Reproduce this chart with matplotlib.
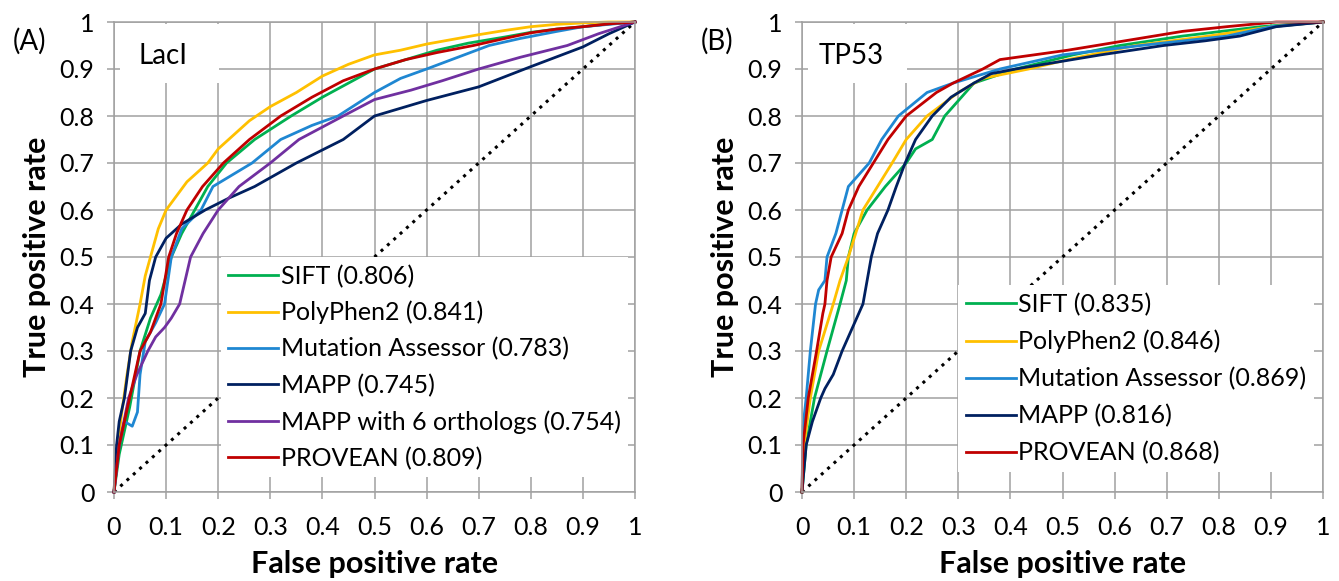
'''
    ROC curves of variant effect predictors on LacI and TP53
'''

import matplotlib
matplotlib.use('Agg')
import matplotlib.pyplot as plt
from matplotlib.patches import Rectangle

plt.rcParams['font.family'] = ['Lato', 'DejaVu Sans']

## ROC points, (fpr, tpr)
LACI_SIFT = [(0, 0), (0.01, 0.08), (0.03, 0.18), (0.05, 0.30), (0.07, 0.37), (0.09, 0.42),
             (0.11, 0.50), (0.13, 0.55), (0.155, 0.60), (0.18, 0.65), (0.216, 0.70), (0.27, 0.75),
             (0.34, 0.80), (0.40, 0.84), (0.45, 0.87), (0.50, 0.90), (0.56, 0.92), (0.62, 0.94),
             (0.68, 0.955), (0.75, 0.968), (0.80, 0.978), (0.85, 0.985), (0.90, 0.99), (0.95, 0.996), (1, 1)]
LACI_POLYPHEN = [(0, 0), (0.005, 0.08), (0.015, 0.17), (0.025, 0.25), (0.035, 0.32), (0.05, 0.40),
                 (0.06, 0.46), (0.07, 0.50), (0.085, 0.56), (0.10, 0.60), (0.12, 0.63), (0.14, 0.66),
                 (0.16, 0.68), (0.18, 0.70), (0.20, 0.73), (0.23, 0.76), (0.26, 0.79), (0.30, 0.82),
                 (0.35, 0.85), (0.40, 0.885), (0.45, 0.91), (0.50, 0.93), (0.55, 0.94), (0.60, 0.953),
                 (0.65, 0.963), (0.70, 0.973), (0.75, 0.982), (0.80, 0.99), (0.85, 0.995), (0.90, 0.998),
                 (0.95, 1.0), (1, 1)]
LACI_MA = [(0, 0), (0.01, 0.10), (0.02, 0.15), (0.035, 0.14), (0.045, 0.17), (0.05, 0.25), (0.06, 0.32),
           (0.08, 0.36), (0.097, 0.40), (0.11, 0.50), (0.13, 0.56), (0.167, 0.60), (0.19, 0.65),
           (0.265, 0.70), (0.32, 0.75), (0.38, 0.78), (0.43, 0.80), (0.50, 0.85), (0.55, 0.88),
           (0.60, 0.90), (0.66, 0.925), (0.72, 0.95), (0.78, 0.965), (0.85, 0.98), (0.90, 0.99),
           (0.95, 0.995), (1, 1)]
LACI_MAPP = [(0, 0), (0.005, 0.10), (0.01, 0.15), (0.02, 0.20), (0.032, 0.30), (0.045, 0.35),
             (0.06, 0.38), (0.068, 0.45), (0.08, 0.50), (0.10, 0.54), (0.13, 0.57), (0.175, 0.60),
             (0.22, 0.625), (0.27, 0.65), (0.35, 0.70), (0.44, 0.75), (0.50, 0.80), (0.60, 0.833),
             (0.70, 0.862), (0.80, 0.905), (0.90, 0.947), (0.95, 0.975), (1, 1)]
LACI_MAPP6 = [(0, 0), (0.01, 0.10), (0.028, 0.20), (0.044, 0.25), (0.065, 0.30), (0.08, 0.33),
              (0.097, 0.35), (0.11, 0.37), (0.126, 0.40), (0.147, 0.50), (0.171, 0.55), (0.20, 0.60),
              (0.24, 0.65), (0.30, 0.70), (0.355, 0.75), (0.44, 0.80), (0.50, 0.835), (0.57, 0.855),
              (0.63, 0.875), (0.70, 0.90), (0.78, 0.925), (0.87, 0.95), (0.93, 0.975), (1, 1)]
LACI_PROVEAN = [(0, 0), (0.01, 0.10), (0.03, 0.20), (0.05, 0.30), (0.07, 0.34), (0.09, 0.40),
                (0.105, 0.50), (0.12, 0.55), (0.14, 0.60), (0.17, 0.65), (0.21, 0.70), (0.26, 0.75),
                (0.32, 0.80), (0.38, 0.84), (0.44, 0.875), (0.50, 0.90), (0.56, 0.92), (0.62, 0.935),
                (0.69, 0.95), (0.75, 0.965), (0.80, 0.977), (0.85, 0.985), (0.90, 0.99), (0.95, 0.996), (1, 1)]

TP53_SIFT = [(0, 0), (0.008, 0.10), (0.024, 0.20), (0.048, 0.30), (0.073, 0.40), (0.085, 0.45),
             (0.089, 0.50), (0.10, 0.55), (0.125, 0.60), (0.16, 0.65), (0.20, 0.70), (0.218, 0.73),
             (0.25, 0.75), (0.274, 0.80), (0.306, 0.84), (0.33, 0.87), (0.41, 0.90), (0.52, 0.93),
             (0.61, 0.95), (0.73, 0.97), (0.88, 0.99), (1, 1)]
TP53_POLYPHEN = [(0, 0), (0.004, 0.10), (0.016, 0.20), (0.032, 0.30), (0.06, 0.40), (0.073, 0.45),
                 (0.089, 0.50), (0.117, 0.60), (0.173, 0.70), (0.20, 0.75), (0.24, 0.80), (0.30, 0.85),
                 (0.347, 0.88), (0.435, 0.90), (0.51, 0.92), (0.64, 0.95), (0.78, 0.97), (0.90, 0.99), (1, 1)]
TP53_MA = [(0, 0), (0.002, 0.14), (0.008, 0.20), (0.016, 0.30), (0.026, 0.40), (0.032, 0.43),
           (0.044, 0.45), (0.048, 0.50), (0.065, 0.55), (0.077, 0.60), (0.089, 0.65), (0.129, 0.70),
           (0.153, 0.75), (0.185, 0.80), (0.24, 0.85), (0.29, 0.87), (0.38, 0.90), (0.50, 0.93),
           (0.65, 0.95), (0.815, 0.97), (0.90, 0.99), (1, 1)]
TP53_MAPP = [(0, 0), (0.008, 0.10), (0.02, 0.15), (0.036, 0.20), (0.044, 0.22), (0.06, 0.25),
             (0.077, 0.30), (0.097, 0.35), (0.117, 0.40), (0.125, 0.45), (0.133, 0.50), (0.145, 0.55),
             (0.165, 0.60), (0.181, 0.65), (0.198, 0.70), (0.218, 0.75), (0.25, 0.80), (0.286, 0.84),
             (0.33, 0.87), (0.363, 0.89), (0.41, 0.90), (0.573, 0.93), (0.694, 0.95), (0.774, 0.96),
             (0.84, 0.97), (0.91, 0.99), (1, 1)]
TP53_PROVEAN = [(0, 0), (0.002, 0.10), (0.012, 0.20), (0.028, 0.30), (0.04, 0.38), (0.044, 0.40),
                (0.048, 0.45), (0.056, 0.50), (0.077, 0.55), (0.089, 0.60), (0.109, 0.65), (0.137, 0.70),
                (0.165, 0.75), (0.20, 0.80), (0.258, 0.85), (0.29, 0.87), (0.347, 0.90), (0.38, 0.92),
                (0.51, 0.94), (0.62, 0.96), (0.73, 0.98), (0.815, 0.99), (0.91, 1.0), (1, 1)]

LACI_NAMES = ['SIFT (0.806)', 'PolyPhen2 (0.841)', 'Mutation Assessor (0.783)',
              'MAPP (0.745)', 'MAPP with 6 orthologs (0.754)', 'PROVEAN (0.809)']
TP53_NAMES = ['SIFT (0.835)', 'PolyPhen2 (0.846)', 'Mutation Assessor (0.869)',
              'MAPP (0.816)', 'PROVEAN (0.868)']

TICKS = [0, 0.1, 0.2, 0.3, 0.4, 0.5, 0.6, 0.7, 0.8, 0.9, 1]
TICK_LABELS = ['0', '0.1', '0.2', '0.3', '0.4', '0.5', '0.6', '0.7', '0.8', '0.9', '1']

GREEN = '#00B050'
YELLOW = '#FFC000'
BLUE = '#1F87D2'
NAVY = '#002060'
PURPLE = '#7030A0'
RED = '#C00000'
GRID = '#A0A0A0'


def setup_axes(ax):
    ax.set_xlim(0, 1)
    ax.set_ylim(0, 1)
    ax.set_xticks(TICKS)
    ax.set_xticklabels(TICK_LABELS)
    ax.set_yticks(TICKS)
    ax.set_yticklabels(TICK_LABELS)
    ax.set_axisbelow(True)
    ax.grid(True, color=GRID, lw=1.1)
    for s in ax.spines.values():
        s.set_color(GRID)
        s.set_linewidth(1.1)
    ax.tick_params(axis='both', direction='out', length=5, width=1.1, color=GRID,
                   labelsize=18, labelcolor='black')
    ax.tick_params(axis='x', pad=12)
    ax.tick_params(axis='y', pad=9)
    ax.set_xlabel('False positive rate', fontsize=22, fontweight='bold', labelpad=8)
    ax.set_ylabel('True positive rate', fontsize=22, fontweight='bold', labelpad=6)
    ax.axline((0, 0), slope=1, color='black', lw=2.2, ls=(0, (1, 1.8)), zorder=1.8)


def draw_curves(ax, curves, names, colors):
    for pts, name, c in zip(curves, names, colors):
        fpr = [p[0] for p in pts]
        tpr = [p[1] for p in pts]
        ax.plot(fpr, tpr, color=c, lw=2.0, label=name, clip_on=False)


def add_tag(ax, panel, gene):
    ax.add_patch(Rectangle((0.012, 0.87), 0.19, 0.125, transform=ax.transAxes,
                           fc='white', ec='none', zorder=1))
    ax.text(0.095, 0.928, gene, transform=ax.transAxes, fontsize=20,
            ha='center', va='center')
    ax.text(-0.195, 0.96, panel, transform=ax.transAxes, fontsize=20,
            ha='left', va='center')


def add_legend(ax, top_left, spacing):
    ax.legend(loc='upper left', bbox_to_anchor=top_left, borderaxespad=0,
              frameon=True, fancybox=False, edgecolor='none', facecolor='white',
              framealpha=1, fontsize=18, handlelength=2.0, handletextpad=0.1,
              labelspacing=spacing, borderpad=0.3)


if __name__ == "__main__":
    fig = plt.figure(figsize=(13.39, 5.81), dpi=100)
    W, H = 1339, 581

    ax1 = fig.add_axes([114 / W, 89 / H, 521 / W, 470 / H])
    setup_axes(ax1)
    draw_curves(ax1, [LACI_SIFT, LACI_POLYPHEN, LACI_MA, LACI_MAPP, LACI_MAPP6, LACI_PROVEAN],
                LACI_NAMES, [GREEN, YELLOW, BLUE, NAVY, PURPLE, RED])
    add_tag(ax1, '(A)', 'LacI')
    add_legend(ax1, (0.205, 0.5), 0.52)

    ax2 = fig.add_axes([802 / W, 89 / H, 521 / W, 470 / H])
    setup_axes(ax2)
    draw_curves(ax2, [TP53_SIFT, TP53_POLYPHEN, TP53_MA, TP53_MAPP, TP53_PROVEAN],
                TP53_NAMES, [GREEN, YELLOW, BLUE, NAVY, RED])
    add_tag(ax2, '(B)', 'TP53')
    add_legend(ax2, (0.30, 0.44), 0.55)

    fig.savefig('out.png', dpi=100)
